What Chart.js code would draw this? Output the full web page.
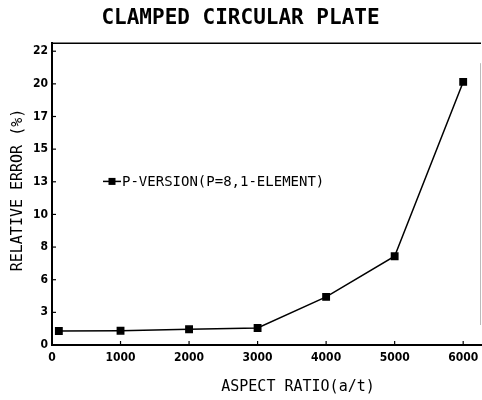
<!DOCTYPE html>
<html>
<head>
<meta charset="utf-8">
<script src="https://cdn.jsdelivr.net/npm/chart.js@4.4.0/dist/chart.umd.min.js"></script>
<style>
html, body { margin: 0; padding: 0; background: #fff; }
</style>
</head>
<body>
<canvas id="myChart" width="482" height="400"></canvas>
<script>
// data
const aspectRatios = [100, 1000, 2000, 3000, 4000, 5000, 6000];
const relativeErrors = [1.05, 1.07, 1.18, 1.27, 3.6, 6.65, 19.7];
const xTicks = [0, 1000, 2000, 3000, 4000, 5000, 6000];
const yTickLabels = ['0', '3', '6', '8', '10', '13', '15', '17', '20', '22'];
const yTop = 22;
const seriesLabel = 'P-VERSION(P=8,1-ELEMENT)';
const xTitle = 'ASPECT RATIO(a/t)';
const yTitle = 'RELATIVE ERROR (%)';

const tickFont = { family: 'DejaVu Sans Condensed', weight: 'bold', size: 12 };

// top border, inside ticks, axis titles and the legend
const frameAndLabels = {
    id: 'frameAndLabels',
    afterDraw(chart) {
        const ctx = chart.ctx;
        const a = chart.chartArea;
        const xs = chart.scales.x;
        const ys = chart.scales.y;
        ctx.save();
        ctx.strokeStyle = '#000';
        ctx.lineWidth = 1.5;
        ctx.beginPath();
        ctx.moveTo(a.left, a.top);
        ctx.lineTo(a.right, a.top);
        ctx.stroke();
        ctx.strokeStyle = '#bbb';
        ctx.lineWidth = 1;
        ctx.beginPath();
        ctx.moveTo(a.right - 0.5, a.top + 20);
        ctx.lineTo(a.right - 0.5, a.bottom - 20);
        ctx.stroke();

        ctx.strokeStyle = '#000';
        ctx.lineWidth = 1.2;
        xs.ticks.forEach(t => {
            const px = xs.getPixelForValue(t.value);
            ctx.beginPath();
            ctx.moveTo(px, a.bottom);
            ctx.lineTo(px, a.bottom - 4);
            ctx.stroke();
        });
        ys.ticks.forEach(t => {
            const py = ys.getPixelForValue(t.value);
            ctx.beginPath();
            ctx.moveTo(a.left, py);
            ctx.lineTo(a.left + 4, py);
            ctx.stroke();
        });

        ctx.fillStyle = '#000';
        ctx.font = '15px "DejaVu Sans Mono"';
        ctx.textAlign = 'center';
        ctx.textBaseline = 'middle';
        ctx.fillText(xTitle, 298, 387);
        ctx.save();
        ctx.translate(18, 190);
        ctx.rotate(-Math.PI / 2);
        ctx.fillText(yTitle, 0, 0);
        ctx.restore();

        // legend
        const lx = a.left + 60;
        const ly = ys.getPixelForValue(12.25);
        ctx.lineWidth = 1.5;
        ctx.beginPath();
        ctx.moveTo(lx - 9, ly);
        ctx.lineTo(lx + 9, ly);
        ctx.stroke();
        ctx.fillRect(lx - 3.5, ly - 3.5, 7, 7);
        ctx.textAlign = 'left';
        ctx.font = '14px "DejaVu Sans Mono"';
        ctx.fillText(seriesLabel, lx + 10, ly + 1);
        ctx.restore();
    }
};

const ctx = document.getElementById('myChart').getContext('2d');
const myChart = new Chart(ctx, {
    type: 'line',
    data: {
        datasets: [{
            label: seriesLabel,
            data: aspectRatios.map((v, i) => ({ x: v, y: relativeErrors[i] })),
            borderColor: '#000',
            backgroundColor: '#000',
            borderWidth: 1.5,
            pointStyle: 'rect',
            pointRadius: 4.5,
            pointBackgroundColor: '#000',
            tension: 0,
            clip: false
        }]
    },
    options: {
        responsive: false,
        animation: false,
        layout: { autoPadding: false, padding: { top: 0, right: 1, bottom: 0, left: 0 } },
        plugins: {
            legend: { display: false },
            tooltip: { enabled: false },
            title: {
                display: true,
                text: 'CLAMPED CIRCULAR PLATE',
                color: '#000',
                font: { family: 'DejaVu Sans Mono', size: 21, weight: 'bold' },
                padding: { top: 6, bottom: 12 }
            }
        },
        scales: {
            x: {
                type: 'linear',
                min: 0,
                max: 6260,
                afterBuildTicks: s => { s.ticks = xTicks.map(v => ({ value: v })); },
                afterFit: s => { s.height = 55; s.paddingRight = 0; s.paddingLeft = 0; },
                grid: { display: true, drawOnChartArea: false, drawTicks: false },
                border: { color: '#000', width: 2 },
                ticks: {
                    color: '#000',
                    font: tickFont,
                    padding: 6,
                    maxRotation: 0,
                    autoSkip: false,
                    callback: v => String(v)
                }
            },
            y: {
                type: 'linear',
                min: 0,
                max: 22.6,
                afterBuildTicks: s => {
                    s.ticks = yTickLabels.map((l, i) => ({ value: i * yTop / (yTickLabels.length - 1) }));
                },
                afterFit: s => { s.width = 52; },
                grid: { display: true, drawOnChartArea: false, drawTicks: false },
                border: { color: '#000', width: 2 },
                ticks: {
                    color: '#000',
                    font: tickFont,
                    padding: 4,
                    autoSkip: false,
                    callback: (v, i) => yTickLabels[i]
                }
            }
        }
    },
    plugins: [frameAndLabels]
});
</script>
</body>
</html>
